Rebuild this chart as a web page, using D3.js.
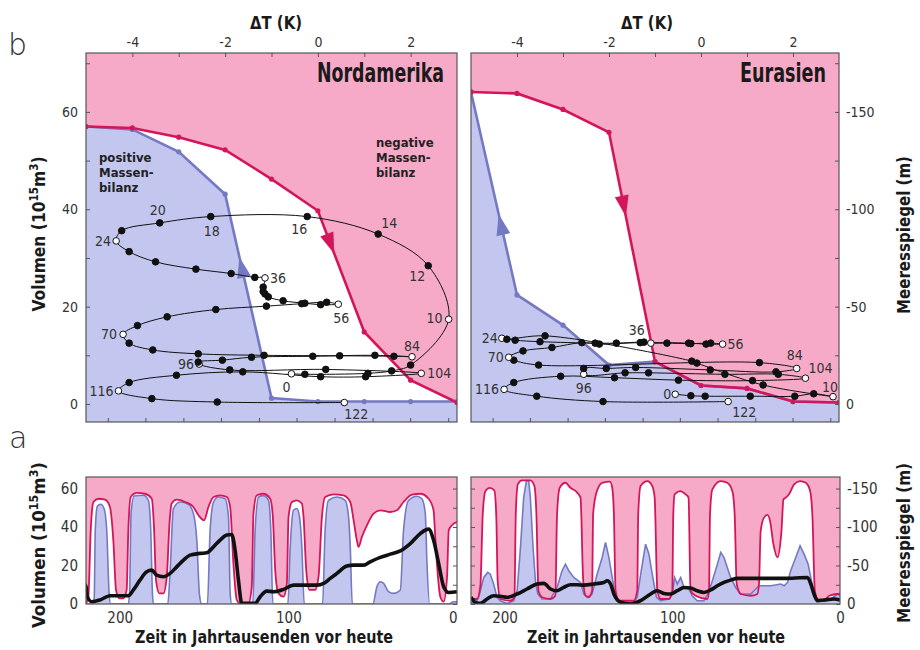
<!DOCTYPE html>
<html>
<head>
<meta charset="utf-8">
<script src="https://cdn.jsdelivr.net/npm/d3@7"></script>
<style>
body { margin: 0; background: #fff; }
svg text { font-family: "Liberation Sans Narrow", "DejaVu Sans Condensed", "Arial Narrow", sans-serif; }
</style>
</head>
<body>
<script>
// ---------- data: hysteresis (b), dT in K, volume in 10^15 m^3 ----------
var naRed  = [[-5,57],[-4,56.7],[-3,54.8],[-2,52.2],[-1,46.2],[0,39.7],[1,14.8],[2,4.9],[3,0.3]];
var naBlue = [[-5,57],[-4,56.4],[-3,51.8],[-2,43.1],[-1,1.2],[0,0.5],[1,0.5],[2,0.5],[3,0.5]];
var euRed  = [[-5,64.1],[-4,63.8],[-3,60.5],[-2,55.8],[-1,8.7],[0,3.8],[1,3.2],[2,0.5],[3,0.3]];
var euBlue = [[-5,64.1],[-4,22.4],[-3,16.2],[-2,8.0],[-1,8.7],[0,3.8],[1,3.2],[2,0.5],[3,0.3]];

// model trajectories, from 122 ka to today: [dT, volume, label]
var naPath = [[0.57,0.3,"122"],[-2.17,0.4],[-3.58,1.1],[-4.30,2.7,"116"],[-4.07,4.4],[-3.05,5.9],[-1.62,6.6],
  [0.06,5.6],[1.03,5.6],[2.23,6.3,"104"],[0.17,7.1],[-1.90,7.0],[-2.56,8.2,"96"],[-2.58,8.6],[-2.06,9.0],
  [-1.43,9.6],[-0.11,9.8],[1.23,10.0],[2.03,9.7,"84"],[1.64,9.8],[0.47,9.9],[-1.16,10.0],[-2.58,10.3],
  [-3.56,11.1],[-4.07,12.5],[-4.2,14.3,"70"],[-3.89,16.1],[-3.25,17.9],[-2.20,19.4],[-1.11,20.1],[-0.35,20.6],
  [0.19,20.9],[0.44,20.5,"56"],[0.06,20.4],[-0.28,20.7],[-0.75,21.2],[-1.07,22.0],[-1.14,22.6],[-1.18,23.1],
  [-1.18,24.0],[-1.14,25.9,"36"],[-1.36,26.0],[-1.87,26.8],[-2.63,27.7],[-3.50,29.2],[-4.07,31.3],
  [-4.35,33.5,"24"],[-4.23,35.6],[-3.41,37.2,"20"],[-2.31,38.5,"18"],[-0.23,38.5,"16"],[1.30,34.9,"14"],
  [2.38,28.4,"12"],[2.82,17.4,"10"],[2.0,8.0],[1.59,6.8],[1.08,6.3],[-0.28,6.1],[-0.57,6.2,"0"]];
var euPath = [[0.59,0.5,"122"],[-2.13,0.5],[-3.57,1.6],[-4.28,3.0,"116"],[-4.07,4.4],[-3.05,5.7],[-1.88,5.4],
  [-0.49,4.9],[1.12,4.8],[2.27,5.3,"104"],[1.68,6.1],[0.52,6.1],[-1.14,6.4],[-1.65,6.4],[-2.55,6.1,"96"],
  [-2.55,7.3],[-2.06,7.3],[-1.42,7.5],[0.20,7.0],[1.63,6.6],[2.08,7.3,"84"],[1.27,8.5],[-3.53,8.0],[-4.07,9.0],
  [-4.18,9.6,"70"],[-3.87,10.9],[-3.24,11.6],[-2.59,12.6],[-2.21,12.3],[-1.32,12.6],[-0.27,12.5],[0.11,12.3],
  [0.47,12.3,"56"],[0.21,12.5],[-0.22,12.4],[-0.74,12.5],[-1.09,12.5,"36"],[-1.24,12.7],[-1.84,12.5],
  [-2.30,12.5],[-3.50,12.8],[-4.04,13.1],[-4.33,13.5,"24"],[-4.22,13.3],[-3.39,14.0],[-0.20,8.8],[-0.09,8.4],
  [1.35,3.9],[2.87,1.5,"10"],[2.45,2.1],[2.04,1.6],[1.07,1.6],[0.09,1.6],[-0.22,1.7],[-0.56,2.0,"0"]];
var openNA = ["122","116","104","96","84","70","56","36","24","10","0"];
var openEU = ["122","116","104","96","84","70","56","36","24","10","0"];

// ---------- data: time series (a), time in ka BP, volume ----------
var naRedSeries = [[220,0.3],[218.6,3.8],[217.2,38.3],[215.6,53],[212.7,54.7],[208.7,54.2],[205.8,50.4],[203.8,33.2],
  [202.2,7.3],[200.2,2.9],[197.8,2.9],[195.9,7.3],[194.9,38.3],[193.5,55.6],[189.9,57.7],[185,57.3],[181,54.7],
  [179.6,38.3],[178.5,12.4],[176.5,5.5],[174.1,5.5],[172.1,14.2],[170.5,41.8],[169.2,52.2],[166.2,54.2],[161.2,53],
  [156.3,50.4],[153.3,46.1],[150,43.5],[147.4,50.4],[144.4,55.6],[140.5,56.5],[136.5,55.6],[134.5,50.4],[132.6,21.1],
  [130.6,2.1],[128.6,0.3],[123.7,0.3],[121.7,9],[120.7,47],[118.7,56.5],[114.8,57.3],[110.8,54.7],[109.2,45.3],
  [107.8,17.6],[105.9,5.5],[102.9,3.8],[100.9,10.7],[99.9,45.3],[97.9,53],[95,53.9],[92,52.2],[91,45.3],[89.4,17.6],
  [87.5,7.3],[84.1,7.3],[82.1,14.2],[80.1,45.3],[78.2,55.6],[73.2,57],[67.3,56.5],[63.3,53],[61.3,43.5],[59.4,33.2],
  [58.4,29.7],[56.4,34.9],[53.4,40.9],[49.5,47],[45.5,48.7],[39.6,47.8],[35.6,48.7],[31.7,53],[26.7,56.8],[21.8,57.3],
  [16.8,54.7],[13.9,48.7],[12.9,34.9],[11.9,21.1],[9.9,3.8],[7.9,1.2],[5.9,14.2],[4.9,38.3],[3,40.9],[0,42.7]];
var naBlueSeries = [[220,0],[215.6,0],[215.1,3.8],[214.5,38.3],[213.3,50.8],[211.3,51.8],[209.3,49.6],[207.7,38.3],
  [206.3,5.5],[205.4,0],[194.9,0],[194.1,7.3],[193.3,47],[191.5,56.1],[186,56.5],[183,53.9],[181.6,38.3],[180.6,5.5],
  [180,0],[171.5,0],[170.1,17.6],[168.2,49.6],[164.2,53],[159.3,51.8],[156.3,47],[154.3,33.2],[152.7,4.7],[151.4,0],
  [148,0],[146.4,38.3],[144.4,53],[141.5,55.6],[137.5,54.7],[135.5,45.3],[134.5,5.5],[133.6,0],[121.1,0],[119.7,38.3],
  [117.7,55.6],[114.8,56.3],[111.8,53.9],[110.4,38.3],[109.2,0],[100.3,0],[98.9,29.7],[97,48.7],[95,49.6],[93.4,45.3],
  [92,29.7],[90.6,0],[79.7,0],[78.2,38.3],[76.2,53.9],[71.2,55.6],[66.3,53.9],[64.3,45.3],[63.3,29.7],[62.1,0],
  [49.9,0],[47.5,9],[45.5,11.6],[43.5,10.7],[40.6,6.4],[37.6,5.5],[33.6,7.3],[31.7,38.3],[28.7,53.9],[23.8,56],
  [20.8,54.7],[18.8,47],[17.8,21.1],[16.2,0],[4.9,0],[2,1.2],[0,1.2]];
var naBlackSeries = [[222,11.6],[220,9],[219.2,3.8],[216.6,1.2],[211.7,2.1],[205.8,4.3],[194.9,4.3],[191.9,7.3],
  [188,12.4],[184,16.8],[181,17.6],[178.1,15],[174.1,14.2],[170.1,15.9],[166.2,19.3],[162.2,22.8],[158.3,25.4],
  [152.3,26.3],[148.4,26.6],[144.4,29.7],[140.5,33.2],[136.5,35.8],[133.6,36.1],[131.6,28],[129.6,12.4],[127.6,0.3],
  [119.7,0.3],[116.7,3.8],[112.8,6.7],[108.8,6.4],[102.9,7.6],[97,9.8],[91,9.8],[83.1,9.8],[79.1,10.7],[75.2,13.3],
  [71.2,15.9],[65.3,19.7],[61.3,20.2],[55.4,20.2],[51.5,21.9],[45.5,24.2],[39.6,25.9],[33.6,27.6],[27.7,31.4],
  [21.8,36.6],[16.8,38.9],[13.9,33.2],[10.9,21.1],[7.9,9],[4.9,6],[0,6.4]];

var euRedSeries = [[220,2.6],[216.4,2.6],[214.4,9.5],[213,46.6],[211.4,58.7],[208.9,60.4],[206.1,59.1],[204.9,44.9],
  [204.1,12.1],[202.5,2.6],[196.5,1.7],[194.1,3.5],[193.3,46.6],[192.1,62.2],[189.6,64.2],[184.6,64.2],[182.2,61.3],
  [181,46.6],[179.8,6.9],[177.6,3.5],[172.6,2.6],[169.7,4.3],[168.7,46.6],[167.1,60.4],[163.7,63],[160.7,60.4],
  [156.7,57.9],[154.7,55.3],[153.1,12.1],[151.7,4.3],[149.8,3.5],[147.8,6.9],[147.2,46.6],[145.2,57.9],[141.8,63],
  [137.2,63.6],[135.8,60.4],[134.8,46.6],[133.8,6.9],[131.8,1.7],[122.9,1.7],[120.9,6.9],[120.3,46.6],[118.9,61.3],
  [114.9,63.9],[111.9,61.3],[110.5,55.3],[108.9,6.9],[107,2.6],[102,2.6],[100,6.9],[99.4,46.6],[98.6,57],[95.4,58.7],
  [92,57],[90.3,55.3],[89.1,6.9],[86.1,4.3],[79.1,2.6],[78.1,6.9],[77.5,46.6],[76.1,59.6],[71.1,63.9],[67.2,63],
  [64.2,58.7],[62.8,46.6],[61.6,10.4],[59.2,5.2],[53.2,4.3],[49.3,5.2],[48.3,10.4],[47.3,38],[45.3,44.9],[43.3,46.3],
  [41.7,43.2],[39.7,31.1],[37.3,24.2],[34.9,38],[33.7,54.4],[32.3,55.3],[30.4,57],[27.4,62.2],[23.8,63.9],[20.4,63],
  [17.8,58.7],[16.4,44.9],[15,6.9],[13.4,2.6],[9.5,1.7],[6.5,4.3],[1.5,5.2],[0,5.2]];
var euBlueSeries = [[220,0.9],[217.4,0.3],[215.4,3.5],[212.4,13.8],[210,16.4],[208.5,15.5],[206.5,10.4],[204.5,3.5],
  [202.5,1.7],[198.5,0.3],[194.5,1.7],[192.5,6.9],[190.5,29.4],[188.6,55.3],[187,63.9],[185.6,63.9],[184.6,55.3],
  [183,29.4],[181.6,12.1],[180.2,5.2],[177.6,2.6],[172.6,2.6],[168.7,8.6],[165.7,17.3],[163.7,20.7],[161.7,17.3],
  [158.7,13.8],[154.7,11.2],[152.7,5.2],[150.7,3.5],[147.8,5.2],[144.8,15.5],[141.8,24.2],[139.8,32],[137.8,24.2],
  [135.8,13.8],[133.8,3.5],[131.8,0.9],[122.9,0.9],[120.9,3.5],[118.5,17.3],[115.9,31.1],[113.9,25.9],[112.3,17.3],
  [110.9,10.4],[109.4,3.5],[107,1.7],[102,2.6],[100,5.2],[98.6,13.8],[97,10.4],[95,13.8],[93,8.6],[90.6,8.6],
  [88.1,4.3],[85.1,1.7],[81.1,1.7],[78.7,5.2],[76.1,12.1],[73.1,20.7],[71.1,26.8],[69.2,24.2],[67.2,19],[65.2,13.8],
  [62.2,8.6],[59.2,5.2],[53.2,5.2],[48.3,9.5],[41.3,9.5],[35.3,10.4],[33.3,9.5],[31.3,11.2],[29.4,17.3],[26.4,24.2],
  [23.8,30.2],[21.4,25.9],[19,20.7],[17.4,13.8],[15.5,5.2],[13.4,1.7],[9.5,1.4],[5.5,2.6],[1.5,5.2],[0,4.3]];
var euBlackSeries = [[220,3.5],[217.4,0.9],[214.4,0.3],[210.4,2.6],[206.5,4.3],[202.5,4],[198.5,3.5],[192.5,5.2],
  [186.6,7.8],[180.6,10.4],[176.6,10.7],[172.6,7.8],[168.7,6.9],[164.7,8.6],[160.7,10],[156.7,10],[152.7,9.8],
  [146.8,10.4],[140.8,11.2],[138.8,12.1],[136.8,10.4],[134.8,5.2],[130.8,0.9],[124.9,0],[118.9,1.7],[112.9,5.2],
  [109,6.9],[105,5.5],[101,5.2],[97,6.9],[93,8.6],[89.1,8.3],[85.1,6.9],[81.1,6],[77.1,7.3],[73.1,9.5],[69.2,11.2],
  [65.2,12.4],[61.2,13.3],[33.3,13.3],[19.4,13.8],[17.4,10.4],[15.5,5.2],[13.4,1.7],[9.5,2.1],[3.5,2.6],[0,2.1]];

// minor ticks on the lower edge of the b panels (dT)
var hystBottomTicks = [-4.53,-3.72,-2.90,-2.09,-1.27,-0.46,0.36,1.18,1.99,2.81];

// ---------- setup ----------
var width = 920, height = 650;
var pink = "#f7aac8", lilac = "#c3c7ef", red = "#d3165b", blue = "#7579c2";
var svg = d3.select("body").append("svg").attr("width", width).attr("height", height);

var yTop = d3.scaleLinear().domain([-3.7, 72.1]).range([422, 53]);
var seaTop = d3.scaleLinear().domain([9.25, -180.25]).range([422, 53]);
var yBot = d3.scaleLinear().domain([0, 66]).range([604, 477]);
var seaBot = d3.scaleLinear().domain([0, -165]).range([604, 477]);

function styleAxis(g, size) {
    g.attr("font-family", null).attr("font-size", null);
    g.select(".domain").remove();
    g.selectAll("line").attr("stroke", "#555");
    g.selectAll("text").attr("fill", "#333").style("font-size", (size || 14) + "px");
}

function clip(id, x0, x1, y0, y1) {
    svg.append("clipPath").attr("id", id).append("rect")
        .attr("x", x0).attr("y", y0).attr("width", x1 - x0).attr("height", y1 - y0);
    return "url(#" + id + ")";
}

// bold title squeezed to the width it has in the figure
function boldText(xp, yp, anchor, size, len, s) {
    return svg.append("text").attr("x", xp).attr("y", yp).attr("text-anchor", anchor)
        .attr("font-weight", "bold").attr("fill", "#1a1a1a").style("font-size", size + "px")
        .attr("textLength", len).attr("lengthAdjust", "spacingAndGlyphs").text(s);
}

// ---------- b: hysteresis panels ----------
function hysteresis(id, x, redPts, bluePts, path, open, offsets, arrows, title, titleLen) {
    var x0 = x.range()[0], x1 = x.range()[1], y0 = yTop.range()[1], y1 = yTop.range()[0];
    var g = svg.append("g").attr("clip-path", clip(id, x0, x1, y0, y1));
    g.append("rect").attr("x", x0).attr("y", y0).attr("width", x1 - x0).attr("height", y1 - y0).attr("fill", pink);

    var area = d3.area().x(d => x(d[0])).y0(y1).y1(d => yTop(d[1]));
    var line = d3.line().x(d => x(d[0])).y(d => yTop(d[1]));
    g.append("path").attr("d", area(redPts)).attr("fill", "#fff");
    g.append("path").attr("d", area(bluePts)).attr("fill", lilac);

    g.append("path").attr("d", line(bluePts)).attr("fill", "none").attr("stroke", blue).attr("stroke-width", 2.6);
    g.append("path").attr("d", line(redPts)).attr("fill", "none").attr("stroke", red).attr("stroke-width", 2.6);
    g.selectAll(".bdot").data(bluePts).enter().append("circle")
        .attr("cx", d => x(d[0])).attr("cy", d => yTop(d[1])).attr("r", 2.6).attr("fill", blue);
    g.selectAll(".rdot").data(redPts).enter().append("circle")
        .attr("cx", d => x(d[0])).attr("cy", d => yTop(d[1])).attr("r", 2.6).attr("fill", red);

    // direction arrows on the branches
    arrows.forEach(function(a) {
        var pts = a.series == "red" ? redPts : bluePts;
        var p = pts[a.seg], q = pts[a.seg + 1];
        var px = x(p[0]), py = yTop(p[1]), qx = x(q[0]), qy = yTop(q[1]);
        var cx = px + (qx - px) * a.f, cy = py + (qy - py) * a.f;
        var ang = Math.atan2(qy - py, qx - px) * 180 / Math.PI + (a.back ? 180 : 0);
        g.append("path").attr("d", "M11,0L-10,-7L-10,7Z")
            .attr("transform", "translate(" + cx + "," + cy + ") rotate(" + ang + ")")
            .attr("fill", a.series == "red" ? red : blue);
    });

    // trajectory
    g.append("path").attr("d", d3.line().curve(d3.curveCatmullRom.alpha(0.5))
            .x(d => x(d[0])).y(d => yTop(d[1]))(path))
        .attr("fill", "none").attr("stroke", "#111").attr("stroke-width", 1);
    g.selectAll(".tdot").data(path).enter().append("circle")
        .attr("cx", d => x(d[0])).attr("cy", d => yTop(d[1])).attr("r", 3.3)
        .attr("fill", d => open.indexOf(d[2]) >= 0 ? "#fff" : "#111")
        .attr("stroke", "#111").attr("stroke-width", 1);
    g.selectAll(".tlab").data(path.filter(d => d[2])).enter().append("text")
        .attr("x", d => x(d[0]) + offsets[d[2]][1]).attr("y", d => yTop(d[1]) + offsets[d[2]][2])
        .attr("text-anchor", d => offsets[d[2]][0])
        .attr("fill", "#333").style("font-size", "14px").text(d => d[2]);

    svg.append("rect").attr("x", x0).attr("y", y0).attr("width", x1 - x0).attr("height", y1 - y0)
        .attr("fill", "none").attr("stroke", "#555").attr("stroke-width", 1.2);
    boldText(x1 - 13, 82, "end", 26, titleLen, title);

    var top = svg.append("g").attr("transform", "translate(0," + y0 + ")")
        .call(d3.axisTop(x).tickValues(d3.range(-4, 3, 1)).tickSize(-4).tickPadding(6)
            .tickFormat(v => v % 2 == 0 ? String(v) : ""));
    styleAxis(top);
    var bot = svg.append("g").attr("transform", "translate(0," + y1 + ")")
        .call(d3.axisBottom(x).tickValues(hystBottomTicks).tickSize(-4).tickFormat(""));
    styleAxis(bot);
}

var xNA = d3.scaleLinear().domain([-5, 3]).range([86, 457]);
var xEU = d3.scaleLinear().domain([-5, 3]).range([471, 839]);

var offNA = {"122":["start",0,16],"116":["end",-5,5],"104":["start",6,5],"96":["end",-5,5],"84":["middle",0,-6],
    "70":["end",-6,5],"56":["middle",3,19],"36":["start",5,5],"24":["end",-5,5],"20":["middle",-2,-8],
    "18":["middle",1,19],"16":["end",0,17],"14":["start",3,-6],"12":["end",-3,15],"10":["end",-6,4],"0":["end",-1,18]};
var offEU = {"122":["start",4,15],"116":["end",-5,5],"104":["start",3,-5],"96":["middle",0,19],"84":["middle",-2,-8],
    "70":["end",-5,5],"56":["start",5,5],"36":["middle",-14,-8],"24":["end",-4,5],"10":["end",5,-5],"0":["end",-4,5]};

hysteresis("cNA", xNA, naRed, naBlue, naPath, openNA, offNA,
    [{series: "red", seg: 5, f: 0.27, back: false}, {series: "blue", seg: 3, f: 0.36, back: true}], "Nordamerika", 127);
hysteresis("cEU", xEU, euRed, euBlue, euPath, openEU, offEU,
    [{series: "red", seg: 3, f: 0.32, back: false}, {series: "blue", seg: 0, f: 0.655, back: true}], "Eurasien", 86);

boldText(276, 29, "middle", 18, 52, "\u0394T (K)");
boldText(647, 29, "middle", 18, 52, "\u0394T (K)");

// mass balance notes
function note(xp, yp, lines) {
    var t = svg.append("text").attr("font-weight", "bold").attr("fill", "#222").style("font-size", "13px");
    lines.forEach((s, i) => t.append("tspan").attr("x", xp).attr("y", yp + i * 15).text(s));
}
note(99, 162, ["positive", "Massen-", "bilanz"]);
note(376, 147, ["negative", "Massen-", "bilanz"]);

// axes of b
var lftTop = svg.append("g").attr("transform", "translate(86,0)")
    .call(d3.axisLeft(yTop).tickValues(d3.range(0, 71, 10)).tickSize(-4).tickPadding(8)
        .tickFormat(v => v % 20 == 0 ? String(v) : ""));
styleAxis(lftTop);
var rgtTop = svg.append("g").attr("transform", "translate(839,0)")
    .call(d3.axisRight(seaTop).tickValues(d3.range(-175, 1, 25)).tickSize(-4).tickPadding(7)
        .tickFormat(v => v % 50 == 0 ? String(v) : ""));
styleAxis(rgtTop);

// ---------- a: time series panels ----------
function series(id, t, redS, blueS, blackS, blueCurve, labelX) {
    var x0 = t.range()[0], x1 = t.range()[1], y0 = yBot.range()[1], y1 = yBot.range()[0];
    var g = svg.append("g").attr("clip-path", clip(id, x0, x1, y0, y1));
    g.append("rect").attr("x", x0).attr("y", y0).attr("width", x1 - x0).attr("height", y1 - y0).attr("fill", pink);
    var area = c => d3.area().curve(c).x(d => t(d[0])).y0(y1).y1(d => yBot(d[1]));
    var line = c => d3.line().curve(c).x(d => t(d[0])).y(d => yBot(d[1]));
    g.append("path").attr("d", area(d3.curveMonotoneX)(redS)).attr("fill", "#fff");
    g.append("path").attr("d", area(blueCurve)(blueS)).attr("fill", lilac);
    g.append("path").attr("d", line(blueCurve)(blueS)).attr("fill", "none").attr("stroke", blue).attr("stroke-width", 1.6);
    g.append("path").attr("d", line(d3.curveMonotoneX)(redS)).attr("fill", "none").attr("stroke", red).attr("stroke-width", 1.8);
    g.append("path").attr("d", line(d3.curveMonotoneX)(blackS)).attr("fill", "none").attr("stroke", "#111")
        .attr("stroke-width", 3.6).attr("stroke-linejoin", "round");
    svg.append("rect").attr("x", x0).attr("y", y0).attr("width", x1 - x0).attr("height", y1 - y0)
        .attr("fill", "none").attr("stroke", "#555").attr("stroke-width", 1.2);

    var ax = svg.append("g").attr("transform", "translate(0," + y1 + ")")
        .call(d3.axisBottom(t).tickValues([200, 100, 0]).tickSize(0).tickPadding(8).tickFormat(String));
    styleAxis(ax, 15);
    boldText(labelX, 643, "middle", 18, 258, "Zeit in Jahrtausenden vor heute");
    return ax;
}

var tNA = d3.scaleLinear().domain([220, 0]).range([86, 457]);
var tEU = d3.scaleLinear().domain([220, 0]).range([471, 840]);
var axNA = series("sNA", tNA, naRedSeries, naBlueSeries, naBlackSeries, d3.curveMonotoneX, 264);
axNA.selectAll(".tick text").filter(d => d == 0).attr("text-anchor", "end");
series("sEU", tEU, euRedSeries, euBlueSeries, euBlackSeries, d3.curveLinear, 656);

var lftBot = svg.append("g").attr("transform", "translate(86,0)")
    .call(d3.axisLeft(yBot).tickValues([0, 20, 40, 60]).tickSize(0).tickPadding(8).tickFormat(String));
styleAxis(lftBot, 15);
var inNA = svg.append("g").attr("transform", "translate(457,0)")
    .call(d3.axisRight(yBot).tickValues(d3.range(0, 61, 10)).tickSize(-4).tickFormat(""));
styleAxis(inNA);
var rgtBot = svg.append("g").attr("transform", "translate(840,0)")
    .call(d3.axisRight(seaBot).tickValues(d3.range(-150, 1, 25)).tickSize(-4).tickPadding(7)
        .tickFormat(v => v % 50 == 0 ? String(v) : ""));
styleAxis(rgtBot, 15);
var inEU = svg.append("g").attr("transform", "translate(471,0)")
    .call(d3.axisLeft(seaBot).tickValues(d3.range(-150, 1, 25)).tickSize(-4).tickFormat(""));
styleAxis(inEU);

// ---------- axis titles, panel letters ----------
function volTitle(xp, yp, len) {
    var t = svg.append("text").attr("transform", "translate(" + xp + "," + yp + ") rotate(-90)")
        .attr("text-anchor", "middle").attr("font-weight", "bold").attr("fill", "#1a1a1a").style("font-size", "18px")
        .attr("textLength", len).attr("lengthAdjust", "spacingAndGlyphs");
    t.append("tspan").text("Volumen (10");
    t.append("tspan").attr("dy", -7).style("font-size", "12px").text("15");
    t.append("tspan").attr("dy", 7).text("m");
    t.append("tspan").attr("dy", -7).style("font-size", "12px").text("3");
    t.append("tspan").attr("dy", 7).text(")");
}
function seaTitle(xp, yp, len) {
    svg.append("text").attr("transform", "translate(" + xp + "," + yp + ") rotate(-90)")
        .attr("text-anchor", "middle").attr("font-weight", "bold").attr("fill", "#1a1a1a").style("font-size", "18px")
        .attr("textLength", len).attr("lengthAdjust", "spacingAndGlyphs")
        .text("Meeresspiegel (m)");
}
volTitle(45, 234, 155);
volTitle(45, 545, 166);
seaTitle(910, 235, 158);
seaTitle(910, 543, 160);

svg.append("text").attr("x", 8).attr("y", 55).attr("fill", "#333").style("font-size", "30px")
    .style("font-family", "'DejaVu Sans', sans-serif").style("font-weight", "200").text("b");
svg.append("text").attr("x", 9).attr("y", 448).attr("fill", "#333").style("font-size", "30px")
    .style("font-family", "'DejaVu Sans', sans-serif").style("font-weight", "200").text("a");
</script>
</body>
</html>
